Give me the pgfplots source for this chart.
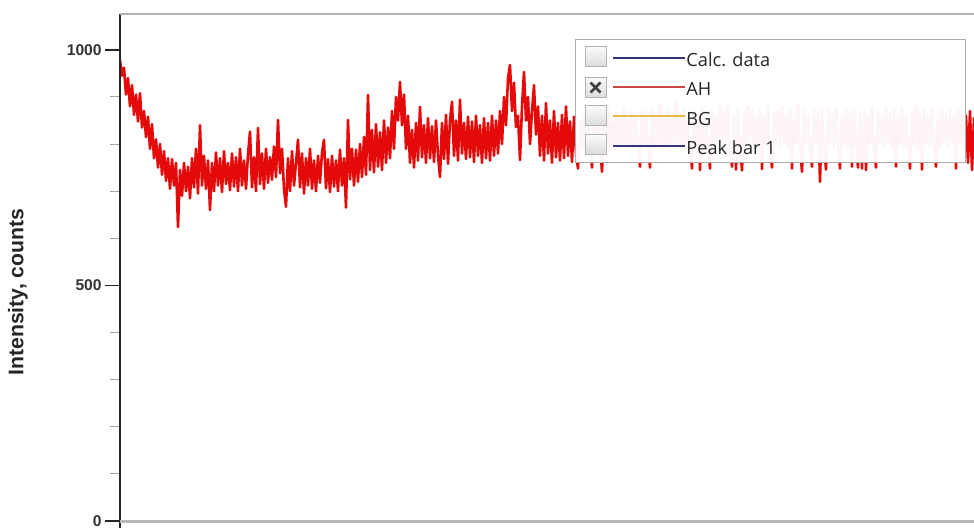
\documentclass[border=0pt]{standalone}
\usepackage{pgfplots}
\pgfplotsset{compat=1.18}
\usepackage{fontspec}
\setmainfont{Liberation Sans}
\newfontfamily\legfont{Open Sans}
\definecolor{datared}{RGB}{228,10,10}
\definecolor{calcblue}{RGB}{52,52,125}
\definecolor{ahred}{RGB}{205,70,70}
\definecolor{bgyellow}{RGB}{232,185,70}
\begin{document}
\begin{tikzpicture}
\begin{axis}[
  at={(0,0)}, anchor=south west, scale only axis,
  width=435pt, height=253.5pt,
  xmin=0, xmax=870, ymin=0, ymax=1076,
  axis line style={draw=none},
  xtick=\empty,
  ytick={0,500,1000}, yticklabels={0,500,1000},
  minor y tick num=4,
  ytick pos=left, tick align=outside,
  major tick length=7.5pt, minor tick length=5pt,
  major y tick style={black!85, line width=0.75pt},
  minor y tick style={gray!70, line width=0.5pt},
  yticklabel style={font=\bfseries\fontsize{7.8}{9}\selectfont, text=black!80, inner sep=0pt, xshift=-1.5pt},
]
\addplot[datared, line width=1.3pt, line join=round] coordinates {
(0,978)(2,945)(4,962)(6,905)(8,940)(10,880)(12,925)(14,862)(16,905)(18,848)
(20,908)(22,835)(24,870)(26,815)(28,858)(30,790)(32,842)(34,770)(36,810)(38,750)
(40,800)(42,735)(44,785)(46,722)(48,770)
(50,705)(52,768)(54,712)(56,760)(58,624)(60,745)(62,690)(64,760)(66,700)(68,752)
(70,685)(72,770)(74,708)(76,790)(78,695)(80,840)(82,712)(84,775)(86,705)(88,765)
(90,660)(92,760)(94,700)(96,782)(98,712)(100,770)(102,698)(104,785)(106,715)(108,760)
(110,702)(112,780)(114,710)(116,772)(118,700)(120,790)(122,712)(124,765)(126,705)(128,778)
(130,826)(132,708)(134,772)(136,700)(138,834)(140,715)(142,780)(144,705)(146,790)(148,718)
(150,772)(152,724)(154,795)(156,730)(158,851)(160,738)(162,790)(164,705)(166,667)(168,770)
(170,700)(172,785)(174,712)(176,760)(178,809)(180,708)(182,780)(184,695)(186,770)(188,712)
(190,790)(192,705)(194,765)(196,700)(198,775)(200,718)(202,782)(204,809)(206,706)(208,768)
(210,698)(212,775)(214,710)(216,765)(218,700)(220,788)(222,712)(224,770)(226,665)(228,851)
(230,725)(232,790)(234,712)(236,788)(238,720)(240,800)(242,730)(244,815)(246,735)(248,904)
(250,745)(252,830)(254,740)(256,842)(258,752)(260,825)(262,745)(264,850)(266,760)(268,835)
(270,770)(272,870)(274,790)(276,900)(278,850)(280,932)(282,840)(284,905)(286,790)(288,860)
(290,760)(292,830)(294,750)(296,845)(298,765)(300,879)(302,772)(304,840)(306,760)(308,855)
(310,770)(312,838)(314,762)(316,850)(318,775)(320,730)(322,845)(324,768)(326,862)(328,758)
(330,850)(332,890)(334,775)(336,850)(338,765)(340,894)(342,780)(344,845)(346,768)(348,858)
(350,772)(352,848)(354,762)(356,860)(358,775)(360,840)(362,760)(364,855)(366,770)(368,845)
(370,765)(372,860)(374,775)(376,850)(378,780)(380,870)(382,800)(384,900)(386,840)(388,940)
(390,968)(392,870)(394,930)(396,836)(398,860)(400,766)(402,880)(404,953)(406,850)(408,900)
(410,800)(412,870)(414,925)(416,820)(418,880)(420,775)(422,860)(424,765)(426,887)(428,780)
(430,850)(432,760)(434,870)(436,772)(438,845)(440,765)(442,862)(444,770)(446,880)(448,775)
(450,848)(452,762)(454,858)(456,780)(458,748)(460,850)(462,790)(464,868)(466,780)(468,845)
(470,795)(472,750)(474,860)(476,785)(478,872)(480,800)(482,741)(484,855)(486,790)(488,880)
(490,782)(492,848)(494,800)(496,866)(498,788)(500,858)(502,795)(504,875)(506,785)(508,850)
(510,798)(512,868)(514,790)(516,860)(518,800)(520,752)(522,870)(524,788)(526,855)(528,795)
(530,750)(532,880)(534,792)(536,862)(538,800)(540,885)(542,790)(544,858)(546,798)(548,870)
(550,785)(552,862)(554,800)(556,890)(558,795)(560,866)(562,788)(564,875)(566,802)(568,858)
(570,795)(572,748)(574,870)(576,800)(578,862)(580,745)(582,880)(584,795)(586,855)(588,800)
(590,748)(592,872)(594,790)(596,860)(598,805)(600,885)(602,795)(604,868)(606,800)(608,878)
(610,792)(612,752)(614,860)(616,746)(618,875)(620,800)(622,744)(624,868)(626,795)(628,880)
(630,802)(632,870)(634,790)(636,862)(638,800)(640,876)(642,747)(644,858)(646,798)(648,885)
(650,790)(652,750)(654,868)(656,800)(658,872)(660,795)(662,880)(664,800)(666,860)(668,792)
(670,875)(672,748)(674,866)(676,800)(678,882)(680,795)(682,741)(684,870)(686,802)(688,862)
(690,790)(692,752)(694,876)(696,800)(698,868)(700,720)(702,880)(704,795)(706,746)(708,872)
(710,800)(712,866)(714,792)(716,878)(718,805)(720,748)(722,862)(724,798)(726,875)(728,790)
(730,868)(732,752)(734,880)(736,800)(738,750)(740,865)(742,748)(744,872)(746,745)(748,860)
(750,800)(752,878)(754,792)(756,750)(758,870)(760,800)(762,862)(764,795)(766,880)(768,802)
(770,866)(772,790)(774,872)(776,752)(778,865)(780,800)(782,878)(784,795)(786,860)(788,805)
(790,748)(792,870)(794,798)(796,882)(798,790)(800,866)(802,746)(804,875)(806,800)(808,862)
(810,795)(812,878)(814,800)(816,752)(818,868)(820,792)(822,880)(824,800)(826,865)(828,795)
(830,872)(832,802)(834,860)(836,748)(838,876)(840,800)(842,868)(844,790)(846,860)(848,760)
(850,870)(852,745)(854,855)(856,770)(858,840)
};
\end{axis}
\begin{scope}[x=0.5pt, y=0.5pt]
  % frame lines
  \draw[black!85, line width=0.75pt] (0,-7) -- (0,507);
  \draw[gray!60, line width=1pt] (0,507) -- (870,507);
  \draw[gray!55, line width=1.5pt] (0,0) -- (870,0);
  % legend box
  \fill[white, fill opacity=0.96] (455,359) rectangle (845,481);
  \draw[gray!65, line width=0.5pt] (455,359) rectangle (845,481);
  % checkboxes
  \foreach \yc in {464,433.5,405,376}{
    \shade[top color=gray!4, bottom color=gray!28] (465,\yc-10) rectangle (486,\yc+10);
    \draw[gray!60, line width=0.5pt] (465,\yc-10) rectangle (486,\yc+10);
  }
  \draw[black!75, line width=1.3pt] (470.5,428.5) -- (480.5,438.5);
  \draw[black!75, line width=1.3pt] (470.5,438.5) -- (480.5,428.5);
  % legend lines
  \draw[calcblue, line width=0.7pt] (493,463) -- (565,463);
  \draw[ahred, line width=0.7pt] (493,434) -- (565,434);
  \draw[bgyellow, line width=0.7pt] (493,405) -- (565,405);
  \draw[calcblue, line width=0.7pt] (493,375) -- (565,375);
  % legend text
  \node[anchor=base west, inner sep=0pt, font=\legfont\fontsize{9.1}{11}\selectfont, text=black!85] at (566,454) {Calc. data};
  \node[anchor=base west, inner sep=0pt, font=\legfont\fontsize{9.1}{11}\selectfont, text=black!85] at (566,425) {AH};
  \node[anchor=base west, inner sep=0pt, font=\legfont\fontsize{9.1}{11}\selectfont, text=black!85] at (566,395.5) {BG};
  \node[anchor=base west, inner sep=0pt, font=\legfont\fontsize{9.1}{11}\selectfont, text=black!85] at (566,366) {Peak bar 1};
  % y label
  \node[rotate=90, inner sep=0pt, font=\bfseries\fontsize{10.6}{12}\selectfont, text=black!85] at (-102,229) {Intensity, counts};
\end{scope}
\pgfresetboundingbox
\path (-60pt,-5pt) rectangle (427pt,260.5pt);
\end{tikzpicture}
\end{document}
